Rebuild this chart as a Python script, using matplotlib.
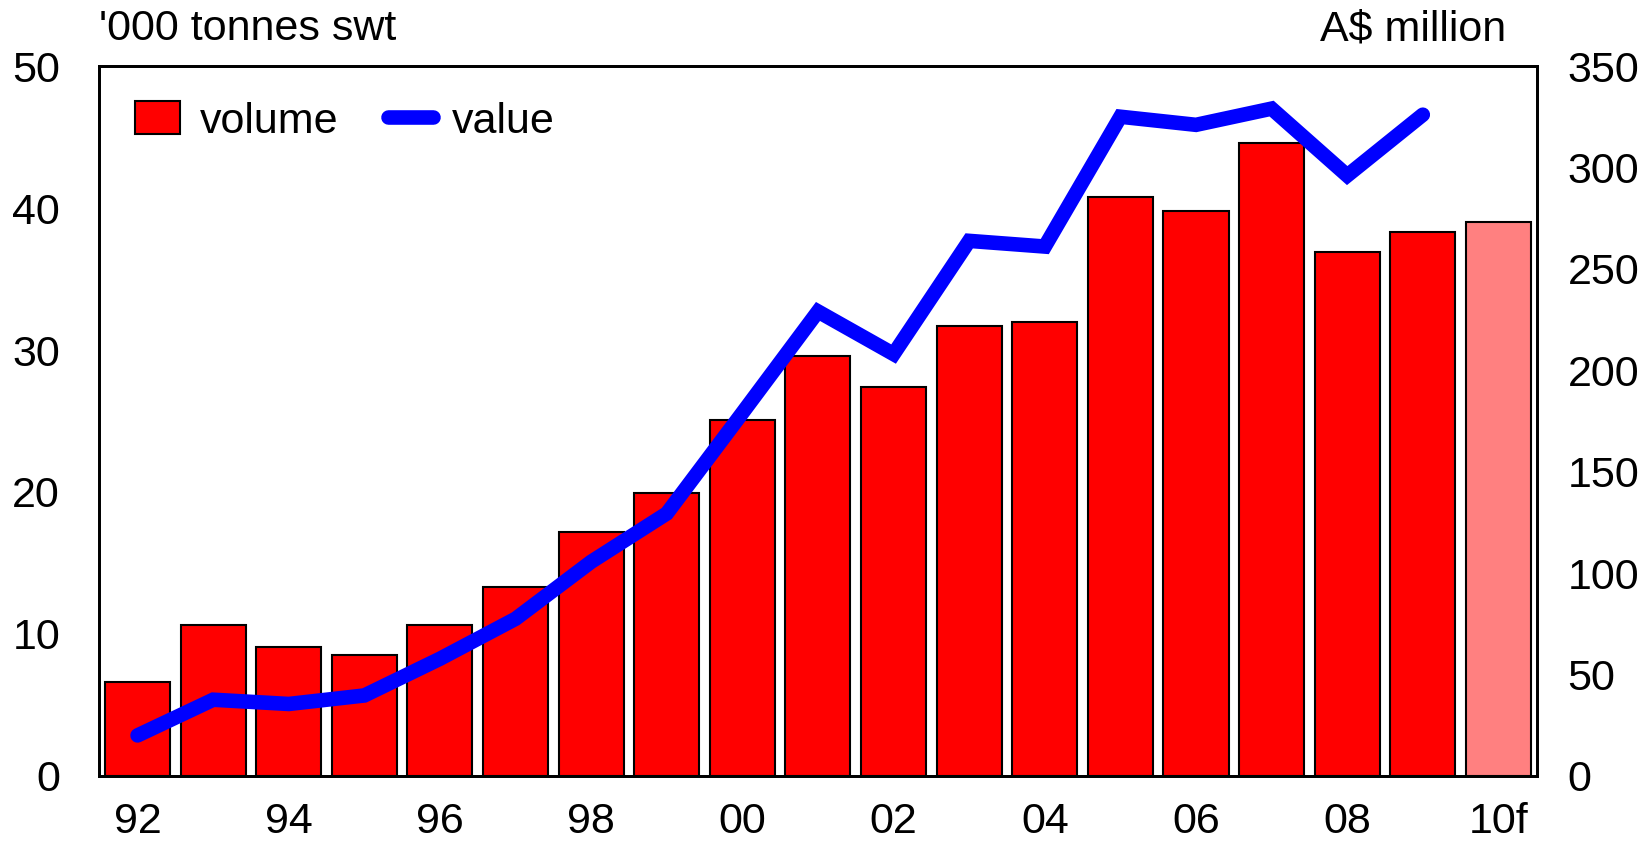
import matplotlib.pyplot as plt
from matplotlib.patches import Patch
from matplotlib.lines import Line2D

plt.rcParams['font.family'] = ['Liberation Sans', 'DejaVu Sans']

years = ['92', '93', '94', '95', '96', '97', '98', '99', '00', '01',
         '02', '03', '04', '05', '06', '07', '08', '09', '10f']
volume = [6.6, 10.6, 9.1, 8.5, 10.6, 13.3, 17.2, 19.9, 25.1, 29.6,
          27.4, 31.7, 32.0, 40.8, 39.8, 44.6, 36.9, 38.3, 39.0]
value = [20, 37.6, 35.5, 39.7, 57.8, 77.5, 105.6, 129.4, 179, 229,
         208, 263.8, 261, 325, 321, 329, 296, 326]

x = list(range(len(years)))
colors = ['#ff0000'] * (len(years) - 1) + ['#ff8080']
fs = 31

fig = plt.figure(figsize=(16.5, 8.42), dpi=100)
ax = fig.add_axes([0.06, 0.0784, 0.8715, 0.8432])
ax.bar(x, volume, width=0.86, color=colors, edgecolor='black', linewidth=1.5, zorder=2)
ax.set_xlim(-0.51, len(years) - 0.49)
ax.set_ylim(0, 50)
ax.set_yticks(range(0, 51, 10))
ax.set_xticks(x[::2])
ax.set_xticklabels(years[::2])
ax.tick_params(axis='both', length=0, labelsize=fs)
ax.tick_params(axis='x', pad=19)
ax.tick_params(axis='y', pad=28)

ax2 = ax.twinx()
ax2.plot(x[:len(value)], value, color='#0000ff', linewidth=10.5,
         solid_capstyle='round', solid_joinstyle='miter', zorder=3)
ax2.set_ylim(0, 350)
ax2.set_yticks(range(0, 351, 50))
ax2.tick_params(axis='y', length=0, labelsize=fs, pad=22)

for a in (ax, ax2):
    for s in a.spines.values():
        s.set_linewidth(2)

handles = [Patch(facecolor='#ff0000', edgecolor='black', linewidth=1.5),
           Line2D([0], [0], color='#0000ff', linewidth=10.5, solid_capstyle='round')]
ax2.legend(handles, ['volume', 'value'], loc='upper left', ncol=2, frameon=False,
           fontsize=fs, bbox_to_anchor=(-0.002, 1.005), handlelength=1.05, handleheight=0.8,
           handletextpad=0.45, columnspacing=1.15)

fig.text(0.06, 0.952, "'000 tonnes swt", fontsize=fs, ha='left', va='baseline')
fig.text(0.913, 0.952, 'A$ million', fontsize=fs, ha='right', va='baseline')

fig.savefig('out.png', dpi=100)
